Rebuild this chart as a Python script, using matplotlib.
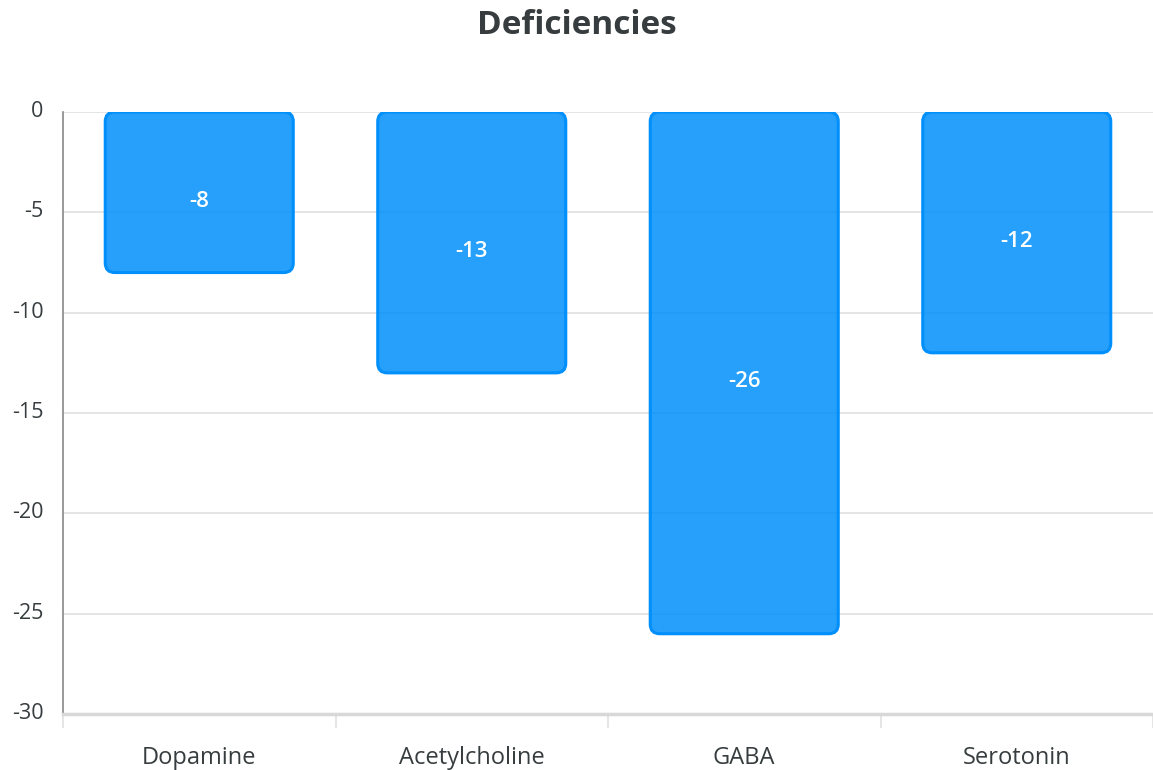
import matplotlib.pyplot as plt
import matplotlib.transforms as mtransforms
from matplotlib.patches import FancyBboxPatch

# data
categories = ['Dopamine', 'Acetylcholine', 'GABA', 'Serotonin']
values = [-8, -13, -26, -12]
y_ticks = [0, -5, -10, -15, -20, -25, -30]

plt.rcParams['font.family'] = ['Open Sans', 'DejaVu Sans']

fig = plt.figure(figsize=(11.53, 7.7), dpi=100)
ax = fig.add_axes([63 / 1153, 1 - 714 / 770, (1153 - 63) / 1153, (714 - 112) / 770])

bar_w = 0.69
fill = '#008FFB'
bars = ax.bar(range(len(categories)), values, width=bar_w, color='none', zorder=3)

# swap plain bars for rounded ones
px_per_x = (1153 - 63) / 4
px_per_y = (714 - 112) / 30
for b in bars:
    x0, y0 = b.get_x(), b.get_y()
    w, h = b.get_width(), b.get_height()
    if h < 0:
        y0, h = y0 + h, -h
    patch = FancyBboxPatch((x0, y0), w, h,
                           boxstyle='round,pad=0,rounding_size=0.035',
                           mutation_aspect=px_per_x / px_per_y,
                           facecolor=fill, alpha=0.85, edgecolor='none', zorder=3)
    ax.add_patch(patch)
    edge = FancyBboxPatch((x0, y0), w, h,
                          boxstyle='round,pad=0,rounding_size=0.035',
                          mutation_aspect=px_per_x / px_per_y,
                          facecolor='none', edgecolor=fill, linewidth=2.2, zorder=4)
    ax.add_patch(edge)

for i, v in enumerate(values):
    ax.text(i, v / 2 - 0.45, str(v), ha='center', va='center', color='white',
            fontsize=16, fontweight='semibold', zorder=5)

ax.set_xlim(-0.5, len(categories) - 0.5)
ax.set_ylim(-30, 0)
ax.set_yticks(y_ticks)
ax.set_yticklabels([str(t) for t in y_ticks])
ax.tick_params(axis='y', length=0, pad=14, labelsize=15.5, labelcolor='#373D3F')
shift = mtransforms.ScaledTranslation(0, 3 / 100, fig.dpi_scale_trans)
for lbl in ax.get_yticklabels():
    lbl.set_transform(lbl.get_transform() + shift)

ax.set_xticks(range(len(categories)))
ax.set_xticklabels(categories)
ax.tick_params(axis='x', which='major', length=0, pad=23, labelsize=17, labelcolor='#373D3F')
ax.set_xticks([i - 0.5 for i in range(len(categories) + 1)], minor=True)
ax.tick_params(axis='x', which='minor', length=10, width=1.2, color='#E0E0E0', direction='out')

ax.grid(axis='y', color='#E0E0E0', linewidth=1.2, zorder=0)
ax.set_axisbelow(True)

for s in ['top', 'right']:
    ax.spines[s].set_visible(False)
ax.spines['left'].set_color('#888888')
ax.spines['left'].set_linewidth(1.2)
ax.spines['bottom'].set_color('#D8D8D8')
ax.spines['bottom'].set_linewidth(2.5)

fig.text(0.5, 1 - 25 / 770, 'Deficiencies', ha='center', va='center',
         fontsize=24, fontweight='bold', color='#373D3F')

fig.savefig('out.png', dpi=100)
